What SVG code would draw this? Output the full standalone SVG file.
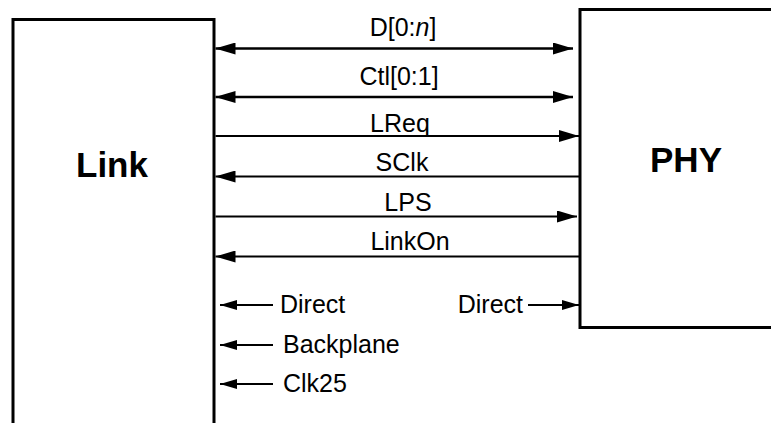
<svg xmlns="http://www.w3.org/2000/svg" width="771" height="423" viewBox="0 0 771 423">
<defs>
<marker id="ah" viewBox="0 0 20 12" refX="20" refY="6" markerWidth="20" markerHeight="12" markerUnits="userSpaceOnUse" orient="auto-start-reverse">
<path d="M0,0 L20,6 L0,12 z" fill="#000"/>
</marker>
<marker id="as" viewBox="0 0 17 10" refX="17" refY="5" markerWidth="17" markerHeight="10" markerUnits="userSpaceOnUse" orient="auto-start-reverse">
<path d="M0,0 L17,5 L0,10 z" fill="#000"/>
</marker>
</defs>
<style>
.box{fill:#fff;stroke:#000;stroke-width:3}
.big{font-family:"Liberation Sans",Arial,sans-serif;font-weight:bold;font-size:35px;text-anchor:middle;fill:#000}
.lbl{font-family:"Liberation Sans",Arial,sans-serif;font-size:25px;fill:#000}
.mid{text-anchor:middle}
.end{text-anchor:end}
.w{stroke:#000;stroke-width:2.5;fill:none}
.s{stroke:#000;stroke-width:2;fill:none}
</style>
<rect width="771" height="423" fill="#fff"/>
<g id="link">
<rect class="box" x="13" y="19.5" width="201" height="420"/>
<text class="big" x="112" y="177">Link</text>
</g>
<g id="phy">
<rect class="box" x="580" y="9.5" width="200" height="318"/>
<text class="big" x="686" y="172">PHY</text>
</g>
<g id="connectors">
<line class="w" x1="215.5" y1="48.5" x2="573" y2="48.5" marker-start="url(#ah)" marker-end="url(#ah)"/>
<line class="w" x1="215.5" y1="97" x2="573" y2="97" marker-start="url(#ah)" marker-end="url(#ah)"/>
<line class="s" x1="215.5" y1="136" x2="579" y2="136" marker-end="url(#ah)"/>
<line class="s" x1="215.5" y1="176.5" x2="579" y2="176.5" marker-start="url(#ah)"/>
<line class="s" x1="215.5" y1="216.5" x2="577" y2="216.5" marker-end="url(#ah)"/>
<line class="s" x1="215.5" y1="256.5" x2="579" y2="256.5" marker-start="url(#ah)"/>
<line class="s" x1="220" y1="305" x2="273" y2="305" marker-start="url(#as)"/>
<line class="s" x1="220" y1="345" x2="273" y2="345" marker-start="url(#as)"/>
<line class="s" x1="220" y1="384" x2="273" y2="384" marker-start="url(#as)"/>
<line class="s" x1="528" y1="305" x2="579" y2="305" marker-end="url(#as)"/>
</g>
<g id="labels">
<text class="lbl mid" x="403" y="36">D[0:<tspan font-style="italic">n</tspan>]</text>
<text class="lbl mid" x="399" y="85">Ctl[0:1]</text>
<text class="lbl mid" x="400" y="132">LReq</text>
<text class="lbl mid" x="402" y="171">SClk</text>
<text class="lbl mid" x="408" y="211">LPS</text>
<text class="lbl mid" x="410" y="250">LinkOn</text>
<text class="lbl" x="280" y="313">Direct</text>
<text class="lbl" x="283" y="353">Backplane</text>
<text class="lbl" x="283" y="392">Clk25</text>
<text class="lbl end" x="523" y="313">Direct</text>
</g>
</svg>
